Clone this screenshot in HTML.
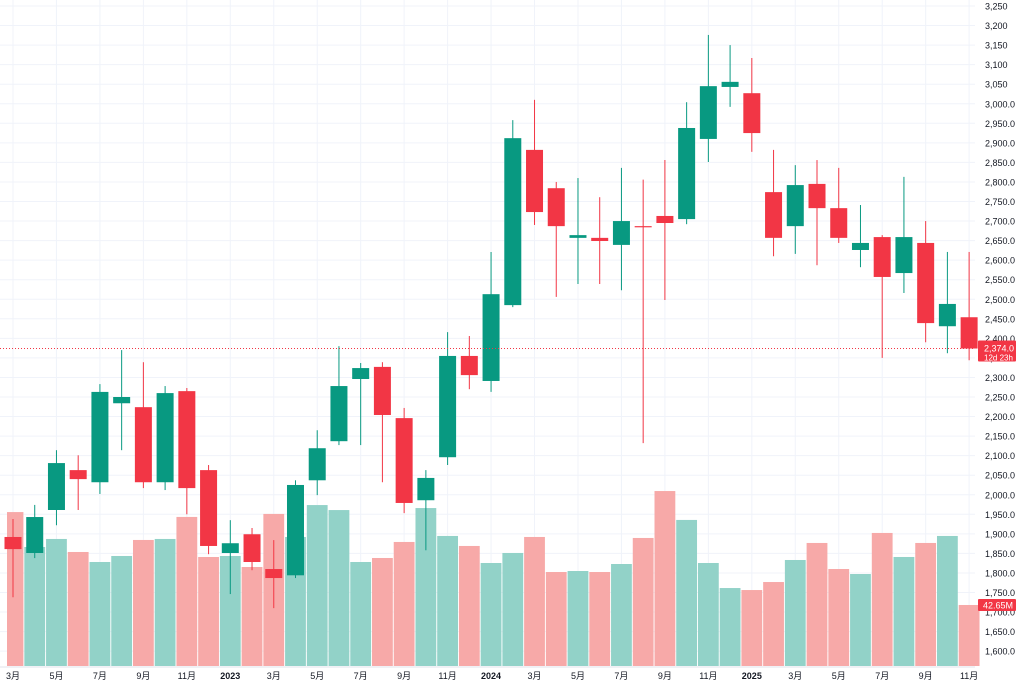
<!DOCTYPE html>
<html><head><meta charset="utf-8"><style>
html,body{margin:0;padding:0;background:#fff;}
svg{display:block;font-family:"Liberation Sans","Noto Sans CJK SC",sans-serif;}
</style></head><body>
<svg id="chart" width="1024" height="689"></svg>
<script>
const opens  = [1892,1851,1961,2063,2032,2234,2224,2032,2265,2063,1851,1899,1810,1794,2037,2137,2296,2327,2196,1986,2096,2355,2291,2485,2882,2784,2657,2657,2639,2687,2713,2705,2910,3043,3027,2774,2687,2795,2733,2626,2659,2567,2644,2431,2454];
const closes = [1861,1943,2081,2040,2263,2250,2032,2260,2017,1869,1876,1828,1787,2025,2119,2278,2324,2204,1979,2043,2355,2306,2513,2912,2723,2687,2664,2649,2700,2684,2695,2938,3045,3056,2925,2657,2792,2733,2657,2644,2557,2659,2439,2488,2374];
const highs  = [1938,1974,2114,2101,2283,2370,2339,2278,2273,2076,1935,1915,1884,2037,2165,2380,2337,2339,2222,2063,2416,2406,2621,2958,3010,2800,2810,2761,2836,2806,2856,3004,3176,3150,3117,2882,2843,2856,2836,2741,2664,2813,2700,2621,2621];
const lows   = [1738,1838,1922,1961,2002,2114,2017,2012,1950,1848,1746,1807,1710,1787,1999,2127,2127,2032,1953,1858,2076,2270,2263,2480,2690,2506,2539,2539,2523,2132,2498,2692,2851,2992,2877,2610,2616,2587,2644,2582,2350,2516,2390,2362,2344];
const volumes= [107.6,83.2,88.8,79.7,72.7,76.9,88.1,88.8,104.2,76.2,76.9,69.2,106.3,90.2,112.5,109.0,72.7,75.5,86.7,110.4,90.9,83.9,72.0,79.0,90.2,65.7,66.4,65.7,71.3,89.5,122.3,102.1,72.0,54.5,53.1,58.7,74.1,86.0,67.8,64.3,93.0,76.2,86.0,90.9,42.65];
const xLabels = ["3月","5月","7月","9月","11月","2023","3月","5月","7月","9月","11月","2024","3月","5月","7月","9月","11月","2025","3月","5月","7月","9月","11月"];
const priceTicks = [3250,3200,3150,3100,3050,3000,2950,2900,2850,2800,2750,2700,2650,2600,2550,2500,2450,2400,2350,2300,2250,2200,2150,2100,2050,2000,1950,1900,1850,1800,1750,1700,1650,1600];
const lastPrice = 2374;

const NS="http://www.w3.org/2000/svg";
const svg=document.getElementById('chart');
function X(i){return 13+21.73*i;}
function Y(p){return 6+(3250-p)/50*19.55;}
function VY(v){return 666-v/0.699;}
function mk(tag,attrs,parent){const e=document.createElementNS(NS,tag);for(const k in attrs)e.setAttribute(k,attrs[k]);(parent||svg).appendChild(e);return e;}
function fmt(p){const s=p.toLocaleString('en-US');return p>3000&&p%100!==0?s:(p>3000?s:s+'.0');}

// grid
const grid=mk('g',{});


priceTicks.forEach(p=>{mk('line',{x1:0,x2:975,y1:Y(p),y2:Y(p),stroke:'#f0f3fa','stroke-width':1},grid);});
xLabels.forEach((l,k)=>{mk('line',{x1:X(k*2),x2:X(k*2),y1:0,y2:666,stroke:'#f0f3fa','stroke-width':1},grid);});

// volume
const vg=mk('g',{});


volumes.forEach((v,i)=>{
  const up=closes[i]>=opens[i];
  const x0=Math.max(7,X(i)-10.4), x1=X(i)+10.4;
  const r=mk('rect',{x:x0,y:VY(v),width:x1-x0,height:666-VY(v),fill:up?'#92d2c8':'#f7a9a8'},vg);
  
  
});

// candles
const cg=mk('g',{});


opens.forEach((o,i)=>{
  const c=closes[i],up=c>=o,col=up?'#089981':'#f23645';
  const g=mk('g',{},cg);
  
  
  mk('line',{x1:X(i),x2:X(i),y1:Y(highs[i]),y2:Y(lows[i]),stroke:col,'stroke-width':1},g);
  const top=Y(Math.max(o,c)),h=Math.max(1,Y(Math.min(o,c))-top);
  mk('rect',{x:X(i)-8.5,y:top,width:17,height:h,fill:col},g);
});

// last price line
const lp=mk('line',{x1:0,x2:975,y1:Y(lastPrice),y2:Y(lastPrice),stroke:'#f23645','stroke-width':1,'stroke-dasharray':'1 2'});



// price axis
const ax=mk('g',{});


priceTicks.forEach(p=>{
  const t=mk('text',{x:985,y:Y(p)+3.5,'font-size':9,fill:'#131722'},ax);
  t.textContent=p>=3050?p.toLocaleString('en-US'):p.toLocaleString('en-US')+'.0';
});
const pl=mk('g',{});


mk('rect',{x:978,y:Y(lastPrice)-8,width:38,height:21,fill:'#f23645',rx:1},pl);
let t=mk('text',{x:984,y:Y(lastPrice)+3,'font-size':9,fill:'#fff'},pl);t.textContent='2,374.0';
t=mk('text',{x:984,y:Y(lastPrice)+12,'font-size':8,fill:'#fff'},pl);t.textContent='12d 23h';
const vl=mk('g',{});


mk('rect',{x:978,y:599,width:38,height:12,fill:'#f23645',rx:1},vl);
t=mk('text',{x:983,y:608.5,'font-size':9,fill:'#fff'},vl);t.textContent='42.65M';

// time axis
const tx=mk('g',{});


mk('line',{x1:0,x2:975,y1:667,y2:667,stroke:'#e0e3eb','stroke-width':1},tx);
xLabels.forEach((l,k)=>{
  const e=mk('text',{x:X(k*2),y:679,'font-size':9,fill:'#131722','text-anchor':'middle','font-weight':/^\d{4}$/.test(l)?'bold':'normal'},tx);
  e.textContent=l;
});
</script>
</body></html>
